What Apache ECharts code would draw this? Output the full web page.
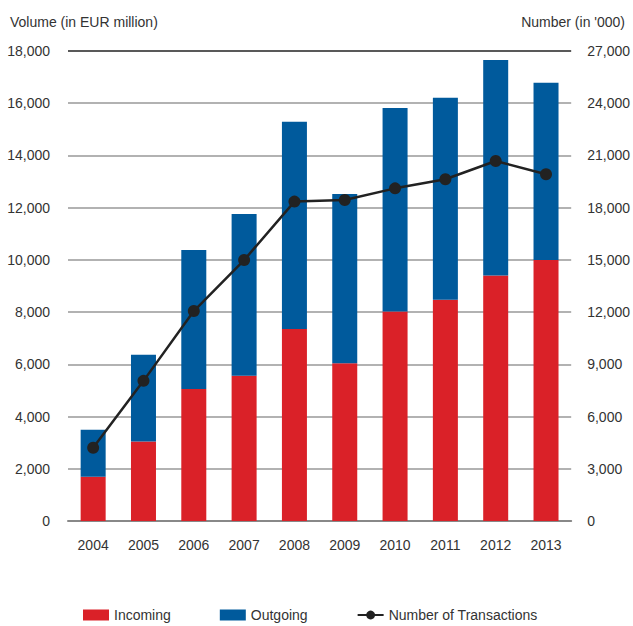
<!DOCTYPE html>
<html><head><meta charset="utf-8">
<script src="https://cdn.jsdelivr.net/npm/echarts@6/dist/echarts.min.js"></script>
<style>html,body{margin:0;padding:0;background:#fff}#c{width:633px;height:626px}</style>
</head><body><div id="c"></div>
<script>
const years = ['2004','2005','2006','2007','2008','2009','2010','2011','2012','2013'];
const incoming = [1690, 3040, 5060, 5560, 7350, 6040, 8020, 8470, 9400, 10000];
const totalVolume = [3490, 6370, 10380, 11760, 15290, 12520, 15820, 16210, 17660, 16780];
const outgoing = totalVolume.map((t, i) => t - incoming[i]);
const transactions = [4210, 8050, 12060, 14990, 18350, 18440, 19110, 19630, 20680, 19920];
const leftTicks = {min: 0, max: 18000, interval: 2000};
const rightTicks = {min: 0, max: 27000, interval: 3000};

const FONT = "'Liberation Sans', Arial, sans-serif";
const txt = {color: '#333', fontFamily: FONT, fontSize: 14};
const gridColors = ['#999','#999','#999','#999','#999','#999','#999','#999','#999','#222'];
const chart = echarts.init(document.getElementById('c'), null, {renderer: 'svg'});
chart.setOption({
  animation: false,
  title: [
    {text: 'Volume (in EUR million)', left: 5, top: 10, textStyle: Object.assign({fontWeight: 'normal'}, txt)},
    {text: "Number (in '000)", right: 3, top: 10, textStyle: Object.assign({fontWeight: 'normal'}, txt)}
  ],
  grid: {left: 68, right: 61, top: 51, bottom: 105},
  legend: {
    top: 603, left: 78, itemWidth: 26, itemHeight: 11, itemGap: 49,
    textStyle: txt,
    data: [{name: 'Incoming', icon: 'rect'}, {name: 'Outgoing', icon: 'rect'}, 'Number of Transactions']
  },
  xAxis: {
    type: 'category', data: years,
    axisTick: {show: false},
    axisLine: {lineStyle: {color: '#888', width: 2}},
    axisLabel: Object.assign({margin: 17}, txt)
  },
  yAxis: [
    {type: 'value', min: leftTicks.min, max: leftTicks.max, interval: leftTicks.interval,
     axisLabel: Object.assign({margin: 18, formatter: v => v.toLocaleString('en-US')}, txt),
     axisLine: {show: false}, axisTick: {show: false},
     splitLine: {lineStyle: {color: gridColors, width: 1.5}}},
    {type: 'value', min: rightTicks.min, max: rightTicks.max, interval: rightTicks.interval,
     axisLabel: Object.assign({margin: 16, formatter: v => v.toLocaleString('en-US')}, txt),
     axisLine: {show: false}, axisTick: {show: false}, splitLine: {show: false}}
  ],
  series: [
    {name: 'Incoming', type: 'bar', stack: 'v', data: incoming, barWidth: 25,
     itemStyle: {color: '#DA2128'}},
    {name: 'Outgoing', type: 'bar', stack: 'v', data: outgoing, barWidth: 25,
     itemStyle: {color: '#005A9C'}},
    {name: 'Number of Transactions', type: 'line', yAxisIndex: 1, data: transactions,
     symbol: 'circle', symbolSize: 12,
     lineStyle: {color: '#222', width: 2.5}, itemStyle: {color: '#222'}}
  ]
});
</script></body></html>
